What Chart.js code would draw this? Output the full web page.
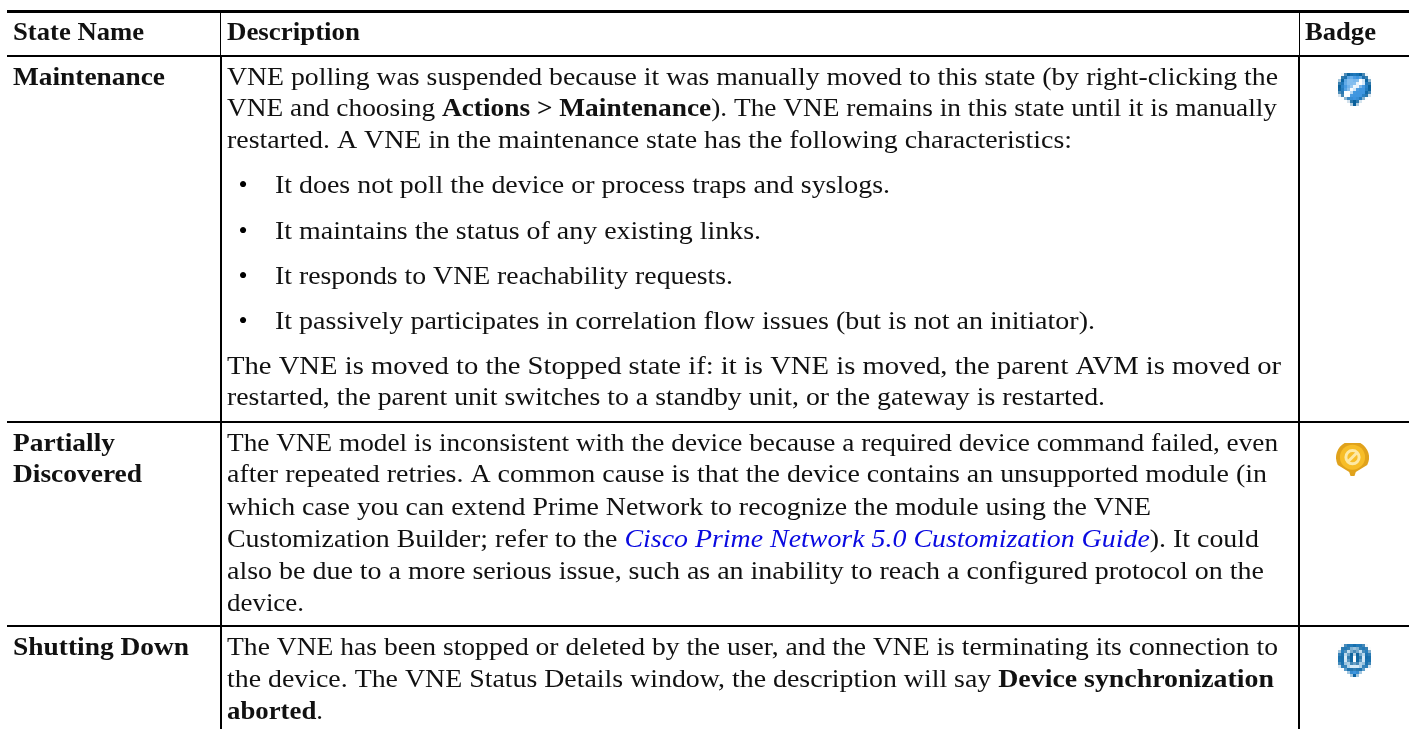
<!DOCTYPE html>
<html>
<head>
<meta charset="utf-8">
<title>VNE states</title>
<script src="https://cdn.jsdelivr.net/npm/chart.js@4"></script>
<style>
  html, body { margin: 0; padding: 0; background: #fff; }
  canvas { display: block; }
</style>
</head>
<body>
<canvas id="myChart" width="1409" height="729"></canvas>
<script>
// table content
var headers = ['State Name', 'Description', 'Badge'];
var stateNames = [['Maintenance'], ['Partially', 'Discovered'], ['Shutting Down']];
var bullets = [
  'It does not poll the device or process traps and syslogs.',
  'It maintains the status of any existing links.',
  'It responds to VNE reachability requests.',
  'It passively participates in correlation flow issues (but is not an initiator).'
];
// r = regular, b = bold, i = link
var maintenanceText = [
  [['r', 'VNE polling was suspended because it was manually moved to this state (by right-clicking the']],
  [['r', 'VNE and choosing '], ['b', 'Actions > Maintenance'], ['r', '). The VNE remains in this state until it is manually']],
  [['r', 'restarted. A VNE in the maintenance state has the following characteristics:']]
];
var maintenanceTail = [
  [['r', 'The VNE is moved to the Stopped state if: it is VNE is moved, the parent AVM is moved or']],
  [['r', 'restarted, the parent unit switches to a standby unit, or the gateway is restarted.']]
];
var partialText = [
  [['r', 'The VNE model is inconsistent with the device because a required device command failed, even']],
  [['r', 'after repeated retries. A common cause is that the device contains an unsupported module (in']],
  [['r', 'which case you can extend Prime Network to recognize the module using the VNE']],
  [['r', 'Customization Builder; refer to the '], ['i', 'Cisco Prime Network 5.0 Customization Guide'], ['r', '). It could']],
  [['r', 'also be due to a more serious issue, such as an inability to reach a configured protocol on the']],
  [['r', 'device.']]
];
var shuttingText = [
  [['r', 'The VNE has been stopped or deleted by the user, and the VNE is terminating its connection to']],
  [['r', 'the device. The VNE Status Details window, the description will say '], ['b', 'Device synchronization']],
  [['b', 'aborted'], ['r', '.']]
];
var badgeNames = ['wrench', 'blocked', 'stopping'];

// layout of the page, in px
var headerSpans = [[13, 144], [227, 360], [1305, 1376]];
var headerBase = 40;
var stateX = [13, 13, 13];
var stateEnds = [[165], [115, 142], [189]];
var stateBase = [[84.5], [451, 482], [655]];
var maintenanceEnds = [1278, 1277, 1072];
var maintenanceBase = [84.5, 116, 147.5];
var bulletEnds = [890, 761, 733, 1095];
var bulletBase = [193, 239, 284, 329];
var tailEnds = [1281, 1105];
var tailBase = [374, 405];
var partialEnds = [1278, 1267, 1151, 1259, 1264, 304];
var partialBase = [451, 482, 515, 547, 579, 611];
var shuttingEnds = [1278, 1274, 323];
var shuttingBase = [655, 687, 719];
var badgeX = [1354.5, 1352.5, 1354.5];
var badgeY = [89.5, 459.5, 660.5];

var ruleTop = [11.5, 11.5];
var ruleHead = [56, 56];
var ruleRow1 = [422, 422];
var ruleRow2 = [626, 626];
var ruleSpan = [7, 1409];
var colFirstHead = [13, 55];
var colFirstBody = [55, 729];

var FAMILY = '"Liberation Serif", "Times New Roman", serif';
var SIZE = 26;

function fontFor(kind) {
  if (kind == 'b') return 'bold ' + SIZE + 'px ' + FAMILY;
  if (kind == 'i') return 'italic ' + SIZE + 'px ' + FAMILY;
  return SIZE + 'px ' + FAMILY;
}

// glyphs in the original are a bit wider than tall, so stretch each line to its end
function drawRuns(ctx, runs, x0, x1, base, xs, ys) {
  var natural = 0;
  runs.forEach(function(r) {
    ctx.font = fontFor(r[0]);
    natural += ctx.measureText(r[1]).width;
  });
  var left = xs.getPixelForValue(x0);
  var k = (xs.getPixelForValue(x1) - left) / natural;
  ctx.save();
  ctx.translate(left, ys.getPixelForValue(base));
  ctx.scale(k, 1);
  var x = 0;
  runs.forEach(function(r) {
    ctx.font = fontFor(r[0]);
    ctx.fillStyle = r[0] == 'i' ? '#0a0ae0' : '#111';
    ctx.fillText(r[1], x, 0);
    x += ctx.measureText(r[1]).width;
  });
  ctx.restore();
}

var tableText = {
  id: 'tableText',
  afterDatasetsDraw: function(chart) {
    var ctx = chart.ctx, xs = chart.scales.x, ys = chart.scales.y;
    ctx.save();
    ctx.textBaseline = 'alphabetic';
    ctx.textAlign = 'left';
    headers.forEach(function(h, i) {
      drawRuns(ctx, [['b', h]], headerSpans[i][0], headerSpans[i][1], headerBase, xs, ys);
    });
    stateNames.forEach(function(lines, i) {
      lines.forEach(function(l, j) {
        drawRuns(ctx, [['b', l]], stateX[i], stateEnds[i][j], stateBase[i][j], xs, ys);
      });
    });
    maintenanceText.forEach(function(l, i) { drawRuns(ctx, l, 227, maintenanceEnds[i], maintenanceBase[i], xs, ys); });
    bullets.forEach(function(b, i) {
      ctx.fillStyle = '#000';
      ctx.font = fontFor('r');
      ctx.fillText('\u2022', xs.getPixelForValue(238.5), ys.getPixelForValue(bulletBase[i]));
      drawRuns(ctx, [['r', b]], 275, bulletEnds[i], bulletBase[i], xs, ys);
    });
    maintenanceTail.forEach(function(l, i) { drawRuns(ctx, l, 227, tailEnds[i], tailBase[i], xs, ys); });
    partialText.forEach(function(l, i) { drawRuns(ctx, l, 227, partialEnds[i], partialBase[i], xs, ys); });
    shuttingText.forEach(function(l, i) { drawRuns(ctx, l, 227, shuttingEnds[i], shuttingBase[i], xs, ys); });
    ctx.restore();
  }
};

function shieldPath(c, s) {
  c.beginPath();
  c.arc(.5 * s, .44 * s, .5 * s, Math.PI * .85, Math.PI * .15);
  c.lineTo(.6 * s, .88 * s);
  c.lineTo(.56 * s, s);
  c.lineTo(.44 * s, s);
  c.lineTo(.4 * s, .88 * s);
  c.closePath();
}

function makeBadge(name) {
  var low = document.createElement('canvas');
  var lowSize = name == 'blocked' ? 33 : 11;
  low.width = low.height = lowSize;
  var c = low.getContext('2d');
  var s = lowSize;
  if (name == 'blocked') {
    shieldPath(c, s);
    c.fillStyle = '#e0a21c';
    c.fill();
    c.save();
    c.translate(s * .5, s * .43);
    c.fillStyle = '#f7bd28';
    c.beginPath(); c.arc(0, 0, s * .38, 0, 7); c.fill();
    c.strokeStyle = '#fde9a6';
    c.lineWidth = s * .09;
    c.beginPath(); c.arc(0, 0, s * .2, 0, 7); c.stroke();
    c.beginPath(); c.moveTo(-s * .14, s * .14); c.lineTo(s * .14, -s * .14); c.stroke();
    c.restore();
  } else if (name == 'wrench') {
    shieldPath(c, s);
    c.fillStyle = '#075f9b';
    c.fill();
    c.fillStyle = '#3f96e0';
    c.beginPath(); c.arc(s * .5, s * .43, s * .38, 0, 7); c.fill();
    c.fillStyle = '#82bdef';
    c.beginPath(); c.arc(s * .38, s * .28, s * .17, 0, 7); c.fill();
    c.strokeStyle = '#fff';
    c.lineWidth = s * .13;
    c.beginPath(); c.moveTo(s * .3, s * .62); c.lineTo(s * .68, s * .3); c.stroke();
    c.fillStyle = '#fff';
    c.beginPath(); c.arc(s * .27, s * .64, s * .11, 0, 7); c.fill();
    c.beginPath(); c.arc(s * .7, s * .28, s * .11, 0, 7); c.fill();
  } else {
    shieldPath(c, s);
    c.fillStyle = '#075f9b';
    c.fill();
    c.strokeStyle = '#2f86c6';
    c.lineWidth = s * .08;
    c.beginPath(); c.arc(s * .5, s * .43, s * .42, 0, 7); c.stroke();
    c.strokeStyle = '#d6ebf8';
    c.lineWidth = s * .11;
    c.beginPath(); c.arc(s * .5, s * .43, s * .27, 0, 7); c.stroke();
    c.fillStyle = '#fff';
    c.fillRect(s * .45, s * .3, s * .1, s * .28);
    c.fillStyle = '#3f96e0';
    c.fillRect(s * .4, s * .82, s * .2, s * .1);
  }
  var big = document.createElement('canvas');
  big.width = big.height = 33;
  var b = big.getContext('2d');
  b.imageSmoothingEnabled = false;
  b.drawImage(low, 0, 0, 33, 33);
  return big;
}

function rule(ys, xs, width) {
  return {
    type: 'line',
    data: xs.map(function(x, i) { return { x: x, y: ys[i] }; }),
    borderColor: '#000',
    borderWidth: width,
    pointRadius: 0,
    tension: 0,
    borderCapStyle: 'butt'
  };
}

var ctx = document.getElementById('myChart').getContext('2d');
var chart = new Chart(ctx, {
  type: 'scatter',
  data: {
    datasets: [
      rule(ruleTop, ruleSpan, 3),
      rule(ruleHead, ruleSpan, 2),
      rule(ruleRow1, ruleSpan, 2),
      rule(ruleRow2, ruleSpan, 2),
      rule(colFirstHead, [220.5, 220.5], 1),
      rule(colFirstHead, [1299.5, 1299.5], 1),
      rule(colFirstBody, [221, 221], 2),
      rule(colFirstBody, [1299, 1299], 2),
      {
        data: badgeX.map(function(x, i) { return { x: x, y: badgeY[i] }; }),
        pointStyle: badgeNames.map(makeBadge),
        pointRadius: 17,
        showLine: false
      }
    ]
  },
  plugins: [tableText],
  options: {
    responsive: false,
    animation: false,
    events: [],
    layout: { padding: 0, autoPadding: false },
    plugins: { legend: { display: false }, tooltip: { enabled: false }, title: { display: false } },
    scales: {
      x: { type: 'linear', min: 0, max: 1409, display: false },
      y: { type: 'linear', min: 0, max: 729, reverse: true, display: false }
    }
  }
});
</script>
</body>
</html>
